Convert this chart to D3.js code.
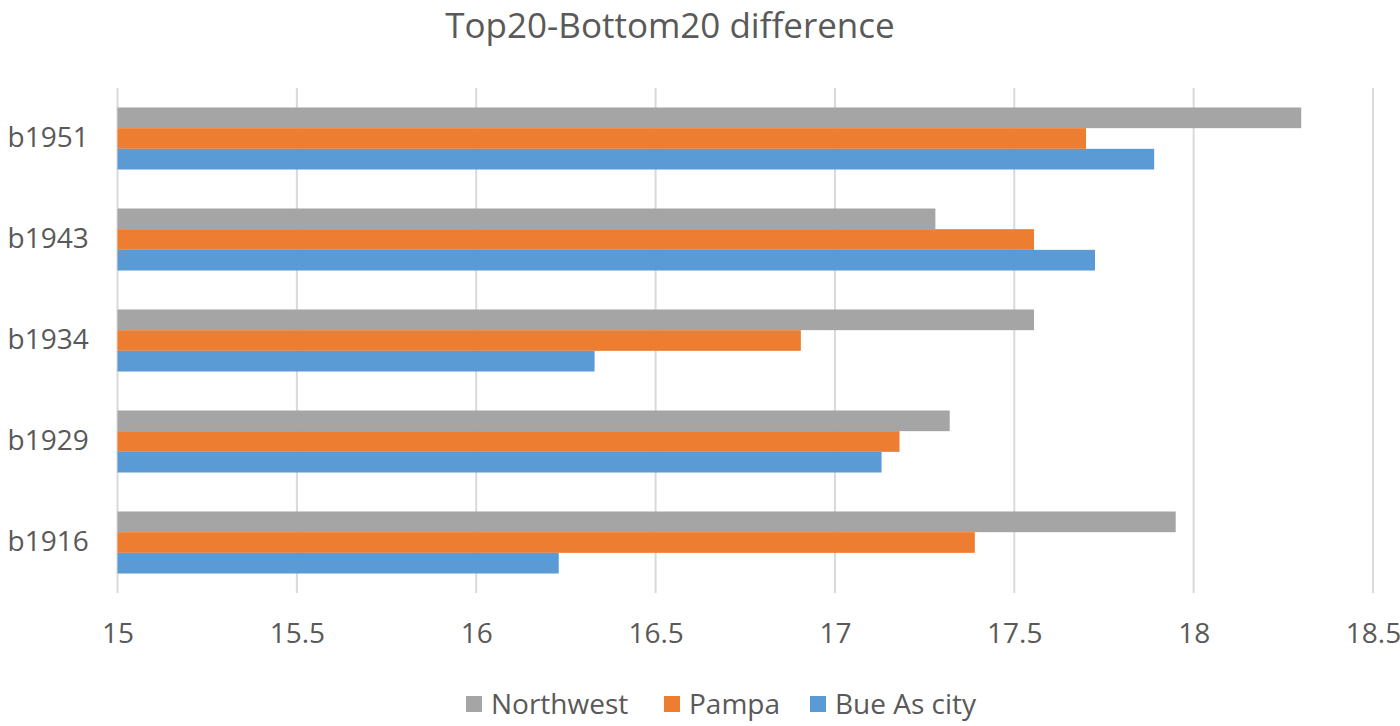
<!DOCTYPE html>
<html>
<head>
<meta charset="utf-8">
<script src="https://cdn.jsdelivr.net/npm/d3@7"></script>
<style>
  body { margin: 0; background: #fff; }
  text { font-family: "Open Sans", sans-serif; fill: #595959; }
</style>
</head>
<body>
<div id="chart"></div>
<script>
var svgWidth = 1400;
var svgHeight = 726;

// data
var categories = ["b1951", "b1943", "b1934", "b1929", "b1916"];
var seriesNames = ["Northwest", "Pampa", "Bue As city"];
var northwest = [18.30, 17.28, 17.555, 17.32, 17.95];
var pampa = [17.70, 17.555, 16.905, 17.18, 17.39];
var bueAsCity = [17.89, 17.725, 16.33, 17.13, 16.23];
var xTicks = [15, 15.5, 16, 16.5, 17, 17.5, 18, 18.5];
var colors = ["#A5A5A5", "#ED7D31", "#5B9BD5"];

var seriesValues = [northwest, pampa, bueAsCity];

var plot = { left: 117.5, right: 1373, top: 88, bottom: 593 };

var svg = d3.select("#chart")
  .append("svg")
  .attr("width", svgWidth)
  .attr("height", svgHeight);

var x = d3.scaleLinear()
  .domain([15, 18.5])
  .range([plot.left, plot.right]);

var y = d3.scaleBand()
  .domain(categories)
  .range([plot.top, plot.bottom])
  .paddingInner(0.386)
  .paddingOuter(0.193);

var ySub = d3.scaleBand()
  .domain(seriesNames)
  .range([0, y.bandwidth()])
  .padding(0);

// title
svg.append("text")
  .attr("x", 670)
  .attr("y", 38)
  .attr("text-anchor", "middle")
  .attr("font-size", "35px")
  .text("Top20-Bottom20 difference");

// gridlines
svg.append("g")
  .selectAll("line")
  .data(xTicks)
  .enter()
  .append("line")
  .attr("x1", d => x(d))
  .attr("x2", d => x(d))
  .attr("y1", plot.top)
  .attr("y2", plot.bottom)
  .attr("stroke", "#D9D9D9")
  .attr("stroke-width", 2);

// x axis tick labels
var xAxis = svg.append("g")
  .attr("transform", `translate(0, ${plot.bottom})`)
  .call(d3.axisBottom(x).tickValues(xTicks).tickSize(0).tickPadding(0).tickFormat(d3.format("")));
xAxis.select(".domain").remove();
xAxis.selectAll("text")
  .attr("dy", "0.35em")
  .attr("y", 40)
  .attr("font-size", "28px")
  .attr("font-family", "Open Sans, sans-serif")
  .attr("fill", "#595959");

// category labels
var yAxis = svg.append("g")
  .attr("transform", `translate(${plot.left}, 0)`)
  .call(d3.axisLeft(y).tickSize(0).tickPadding(0));
yAxis.select(".domain").remove();
yAxis.selectAll("text")
  .attr("text-anchor", "start")
  .attr("x", -110)
  .attr("font-size", "28px")
  .attr("font-family", "Open Sans, sans-serif")
  .attr("fill", "#595959");

// bars
var groups = svg.append("g")
  .selectAll("g")
  .data(categories)
  .enter()
  .append("g")
  .attr("transform", d => `translate(0, ${y(d)})`);

groups.selectAll("rect")
  .data((d, i) => seriesNames.map((s, j) => ({ series: s, value: seriesValues[j][i], color: colors[j] })))
  .enter()
  .append("rect")
  .attr("x", x(15))
  .attr("y", d => ySub(d.series))
  .attr("width", d => x(d.value) - x(15))
  .attr("height", ySub.bandwidth())
  .attr("fill", d => d.color);

// legend
var legendX = [466, 664, 810];
var legend = svg.append("g")
  .selectAll("g")
  .data(seriesNames)
  .enter()
  .append("g")
  .attr("transform", (d, i) => `translate(${legendX[i]}, 704)`);

legend.append("rect")
  .attr("x", 0)
  .attr("y", -8)
  .attr("width", 16)
  .attr("height", 16)
  .attr("fill", (d, i) => colors[i]);

legend.append("text")
  .attr("x", 25)
  .attr("y", 0)
  .attr("dy", "0.35em")
  .attr("font-size", "28px")
  .text(d => d);
</script>
</body>
</html>
